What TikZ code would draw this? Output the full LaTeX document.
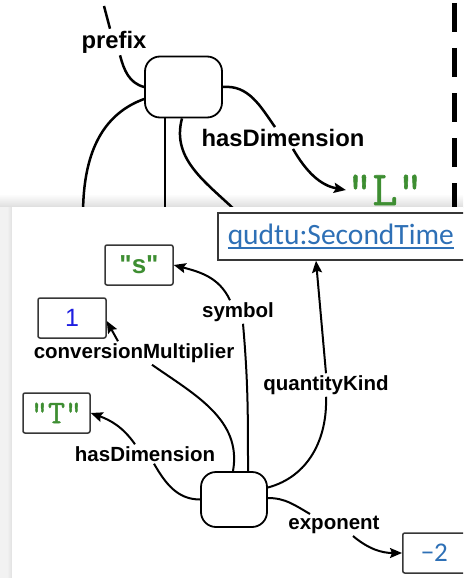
\documentclass[tikz,border=0pt]{standalone}
\usepackage{fontspec}
\setmainfont{Liberation Sans}
\newfontfamily\litmono[FakeBold=1.2]{Latin Modern Mono}
\newfontfamily\calib{Carlito}
\usetikzlibrary{arrows.meta}
\definecolor{litgreen}{RGB}{62,142,50}
\definecolor{numblue}{RGB}{30,30,225}
\definecolor{linkblue}{RGB}{46,112,182}
\definecolor{boxline}{RGB}{55,55,55}
\newcommand{\qq}[1]{\textquotedbl#1\textquotedbl}
% link text with a heavier underline
\newcommand{\linkul}[1]{\setbox0\hbox{#1}\rlap{\rule[-5pt]{\wd0}{1.8pt}}\box0}

\begin{document}
\begin{tikzpicture}[x=1pt,y=-1pt,
  res/.style={draw=black, line width=1.8pt, rounded corners=15pt, inner sep=0pt},
  litbox/.style={draw=boxline, line width=1.5pt, rounded corners=2pt,
    minimum height=40pt, minimum width=68pt, inner sep=0pt},
  lbl/.style={font=\fontsize{20.5pt}{24pt}\selectfont\bfseries, inner sep=2pt},
  toplbl/.style={font=\fontsize{23.8pt}{28pt}\selectfont\bfseries, inner sep=2pt},
  link/.style={line width=2pt},
  toplink/.style={line width=2.5pt},
  arr/.style={-{Stealth[length=12pt,width=10pt,inset=2pt]}}
]
\useasboundingbox (0,0) rectangle (463,578);
\clip (0,0) rectangle (463,578);

% shadow cast by the front panel onto the graph behind it
\shade[top color=white, bottom color=black!13] (0,194) rectangle (463,207);
\fill[black!5] (0,207) rectangle (12,578);
\shade[left color=black!5, right color=black!12] (7,207) rectangle (12,578);

% ---- background graph (unit with a prefix) ----
\node[res, minimum width=77pt, minimum height=61pt] (top) at (183.5,87) {};
\node[toplbl] (pre) at (114,42) {prefix};
\node[toplbl] (hdtop) at (283,138) {hasDimension};
\node[font=\litmono\fontsize{49pt}{51pt}\selectfont, text=litgreen,
  inner sep=1pt] (Llit) at (385,190) {\qq{L}};
\coordinate (preIn) at (104,6);
\coordinate (leftOut) at (83,215);
\coordinate (midOut) at (165,215);
\coordinate (rightOut) at (240,215);

\draw[toplink] (preIn) -- ([xshift=-4pt]pre.north);
\draw[toplink] ([xshift=6pt]pre.south) to[out=-75, in=165] (top.west);
\draw[toplink] ([yshift=-12pt]top.west) to[out=200, in=90] (leftOut);
\draw[toplink] (top.south -| midOut) -- (midOut);
\draw[toplink] ([xshift=-1.5pt]top.south) to[out=-105, in=135] (rightOut);
\draw[toplink] (top.east) to[out=5, in=125] ([xshift=-8pt]hdtop.north);
\draw[toplink, arr] ([xshift=10pt]hdtop.south) to[out=-60, in=170] (Llit.west);

% separator
\draw[line width=5.5pt, dash pattern=on 29pt off 16pt] (454.5,3) -- (454.5,212);

% ---- front panel ----
\fill[white] (12,207) rectangle (463,578);

% ---- unit qudtu:SecondTime ----
\node[draw=boxline, line width=1.5pt, anchor=west, minimum height=47pt,
  text width=400pt, inner xsep=10pt, align=left,
  font=\calib\fontsize{29.5pt}{32pt}\selectfont, text=linkblue]
  (qbox) at (217,236.5) {\linkul{qudtu:SecondTime}};
\node[litbox, font=\bfseries\fontsize{26pt}{28pt}\selectfont, text=litgreen]
  (sbox) at (139,265) {\qq{s}};
\node[litbox, font=\fontsize{25pt}{28pt}\selectfont, text=numblue]
  (onebox) at (72,318) {1};
\node[litbox, minimum width=67pt, font=\litmono\fontsize{33pt}{35pt}\selectfont,
  text=litgreen] (tbox) at (56.5,413) {\qq{T}};
\node[litbox, minimum width=150pt, anchor=west, align=left, text width=130pt,
  inner xsep=18pt, font=\calib\fontsize{27pt}{30pt}\selectfont,
  text=linkblue] (m2box) at (402,553) {−2};

\node[res, minimum width=66pt, minimum height=55pt] (bot) at (234,499.5) {};

\node[lbl] (sym) at (238,312) {symbol};
\node[lbl] (conv) at (134,353) {conversionMultiplier};
\node[lbl] (qk) at (326,385) {quantityKind};
\node[lbl] (hd) at (145,454) {hasDimension};
\node[lbl] (ex) at (334,525) {exponent};

\draw[link] ([xshift=14pt]bot.north) to[out=90, in=-85] ([xshift=5pt]sym.south);
\draw[link, arr] ([xshift=-8pt]sym.north) to[out=115, in=-15] (sbox.east);

\draw[link] ([xshift=-1pt]bot.north) to[out=80, in=-35] ([xshift=18pt]conv.south);
\draw[link, arr] ([xshift=-16pt]conv.north) -- ([yshift=-3pt]onebox.east);

\draw[link] ([yshift=12pt]bot.east) to[out=15, in=-88] (qk.south);
\draw[link, arr] (qk.north) -- ([xshift=99pt]qbox.south west);

\draw[link] (bot.west) to[out=180, in=-60] ([xshift=9pt]hd.south);
\draw[link, arr] ([xshift=-10pt]hd.north) to[out=125, in=-20] (tbox.east);

\draw[link] ([yshift=1.5pt]bot.east) to[out=0, in=150] ([xshift=-24pt]ex.north);
\draw[link, arr] ([xshift=19pt]ex.south) to[out=-40, in=180] (m2box.west);
\end{tikzpicture}
\end{document}
